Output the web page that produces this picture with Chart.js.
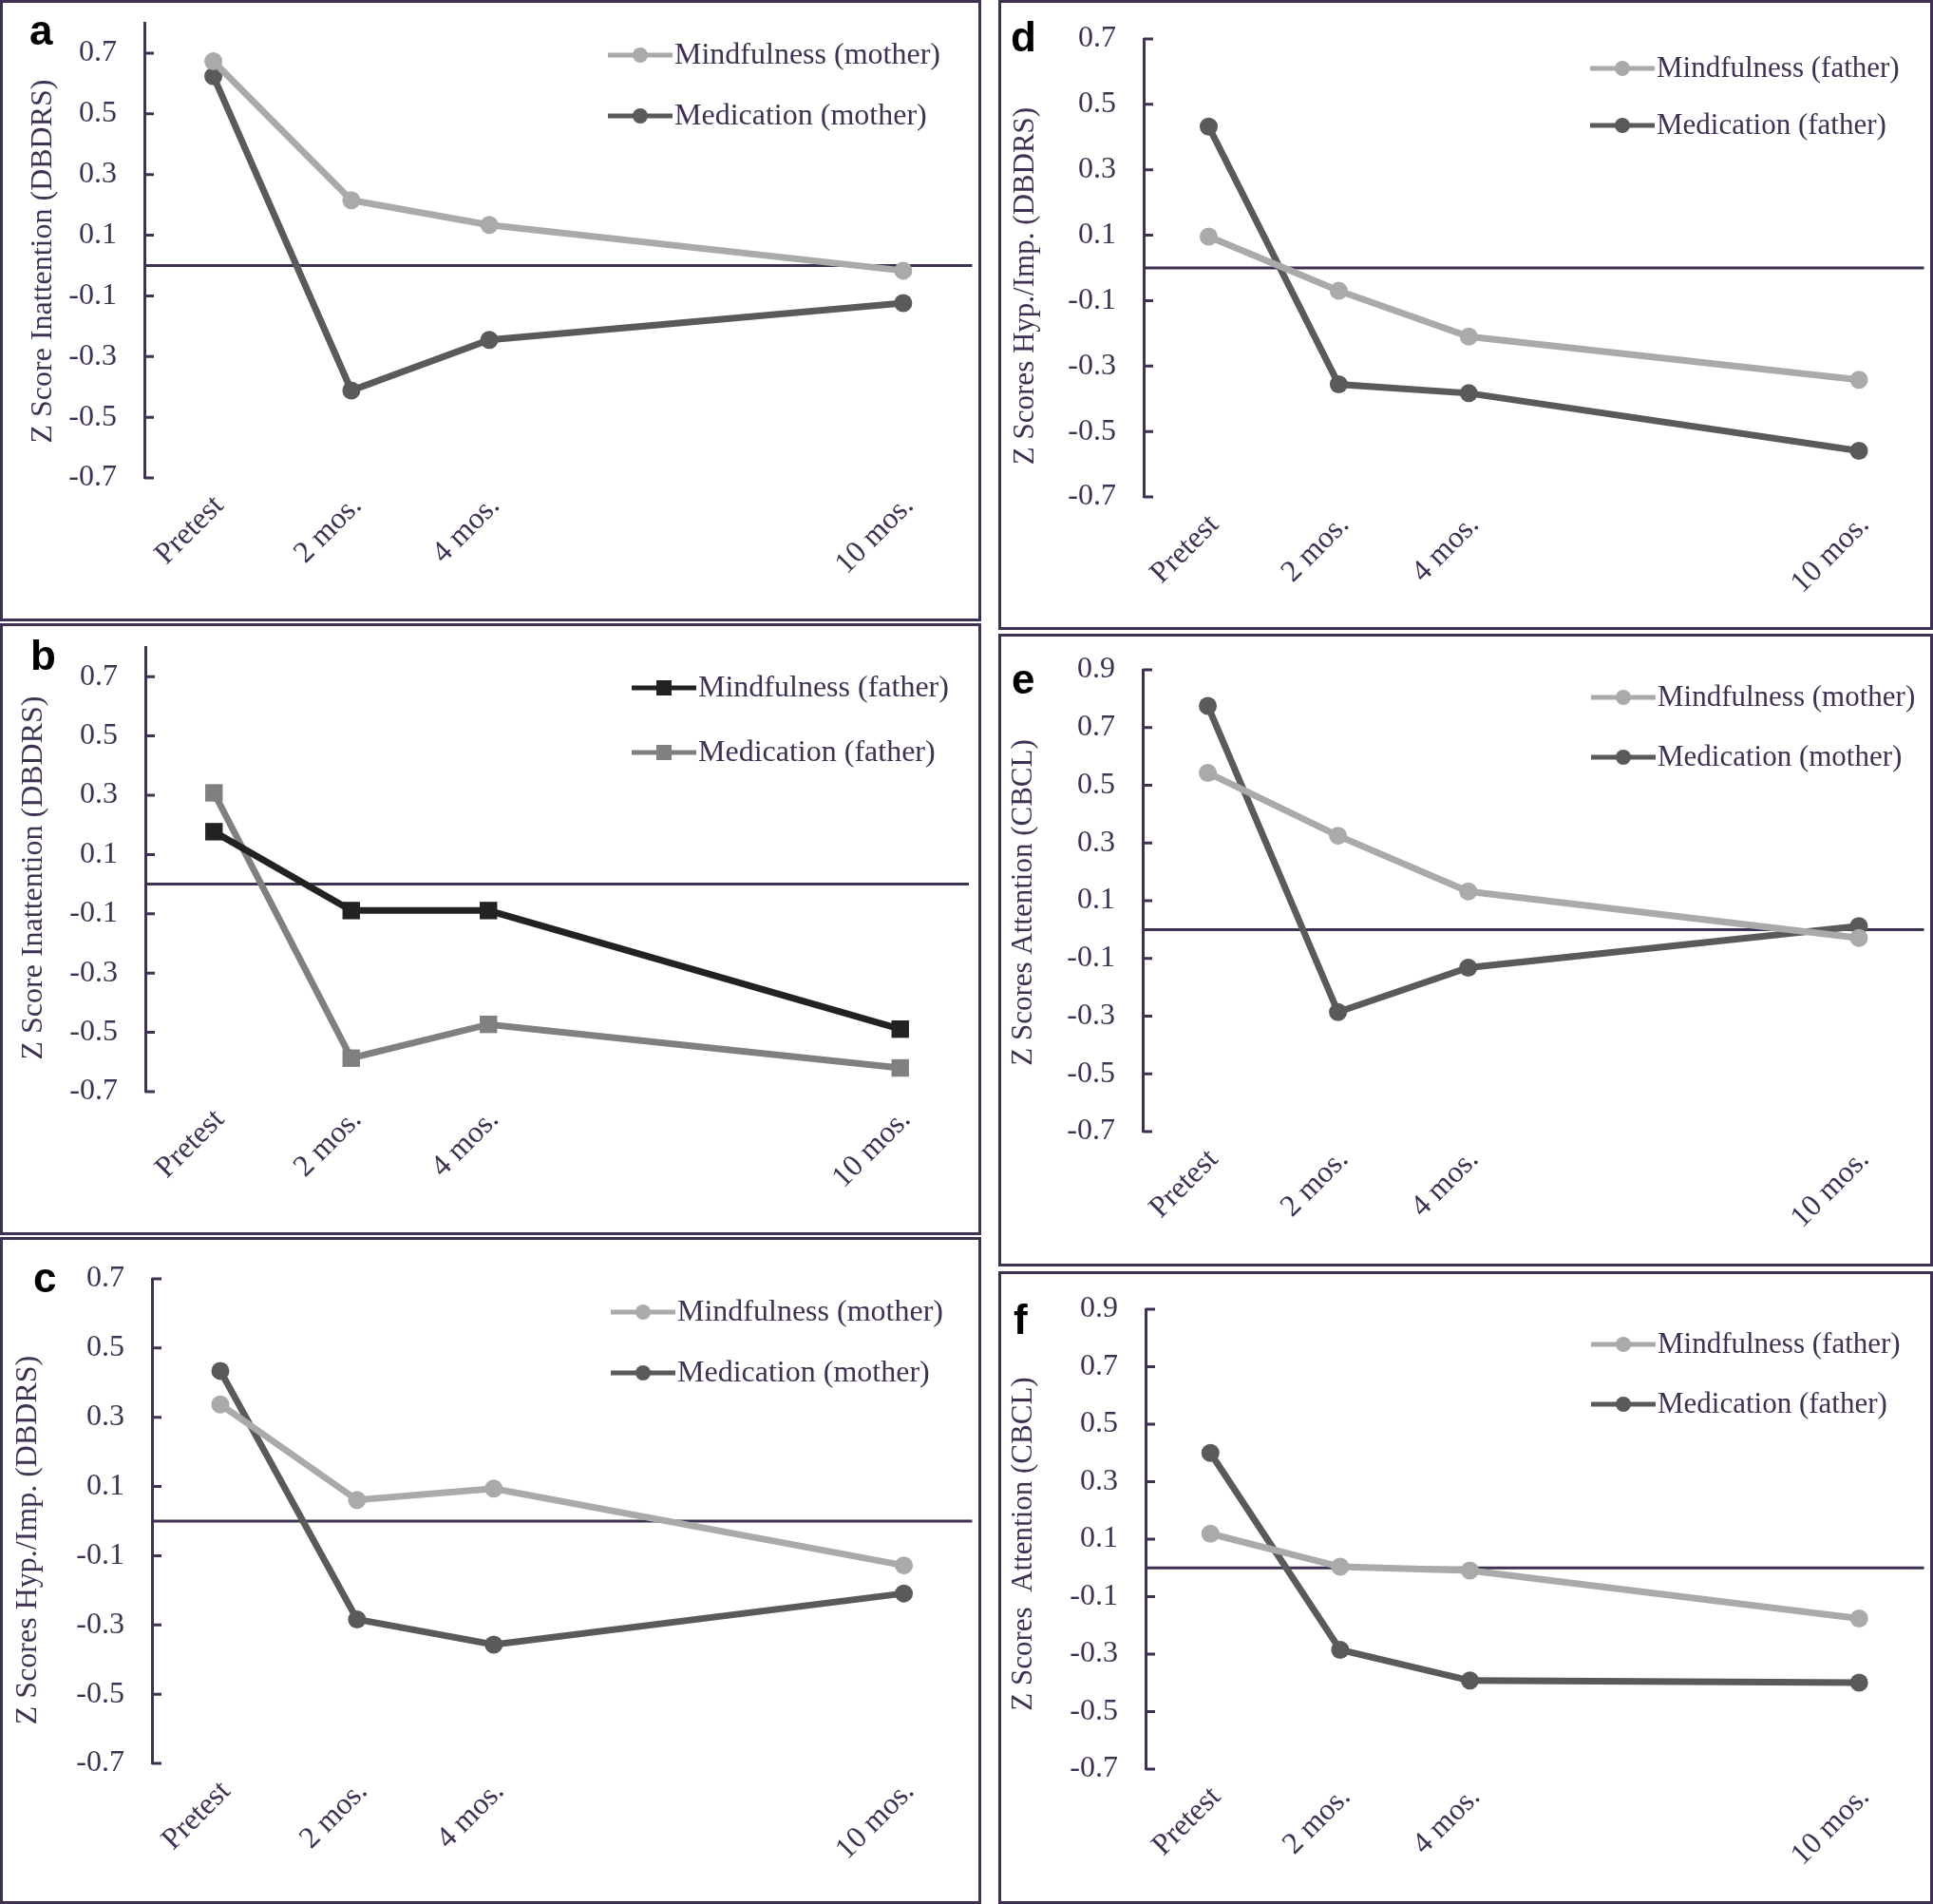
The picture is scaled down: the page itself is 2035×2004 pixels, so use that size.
<!DOCTYPE html>
<html>
<head>
<meta charset="utf-8">
<script src="https://cdn.jsdelivr.net/npm/chart.js@4.4.1/dist/chart.umd.min.js"></script>
<style>
  html, body { margin: 0; padding: 0; background: #fff; }
  #fig { position: relative; width: 2035px; height: 2004px; background: #fff; overflow: hidden; }
  .panel { position: absolute; }
  .panel canvas { position: absolute; left: 0; top: 0; }
  .frame { position: absolute; left: 0; top: 0; right: 0; bottom: 0; border: 3px solid #3F3151; box-sizing: border-box; pointer-events: none; }
</style>
</head>
<body>
<div id="fig"></div>
<script>
// ---- data ----
const months = [0, 2, 4, 10];
const timeLabels = ['Pretest', '2 mos.', '4 mos.', '10 mos.'];
const yTicksDbdrs = [-0.7, -0.5, -0.3, -0.1, 0.1, 0.3, 0.5, 0.7];
const yTicksCbcl = [-0.7, -0.5, -0.3, -0.1, 0.1, 0.3, 0.5, 0.7, 0.9];

// a: inattention (DBDRS), mothers
const inattMindMother = [0.673, 0.215, 0.134, -0.017];
const inattMedMother  = [0.624, -0.412, -0.245, -0.124];
// b: inattention (DBDRS), fathers
const inattMindFather = [0.177, -0.089, -0.089, -0.489];
const inattMedFather  = [0.308, -0.587, -0.473, -0.620];
// c: hyperactivity/impulsivity (DBDRS), mothers
const hypMindMother = [0.337, 0.061, 0.094, -0.128];
const hypMedMother  = [0.434, -0.284, -0.357, -0.209];
// d: hyperactivity/impulsivity (DBDRS), fathers
const hypMindFather = [0.096, -0.070, -0.210, -0.342];
const hypMedFather  = [0.432, -0.356, -0.383, -0.559];
// e: attention (CBCL), mothers
const attMindMother = [0.543, 0.325, 0.132, -0.029];
const attMedMother  = [0.775, -0.286, -0.132, 0.012];
// f: attention (CBCL), fathers
const attMindFather = [0.119, 0.004, -0.009, -0.176];
const attMedFather  = [0.400, -0.285, -0.392, -0.399];

// ---- look ----
const INK = '#3F3151';
const LIGHT = '#AAAAAA';
const DARK = '#5A5A5A';
const SERIF = "'Liberation Serif', 'Times New Roman', serif";
const TICK_FS = 32;

// panel boxes, plot edges, title centre and legend anchor in page pixels
const panels = [
  { id: 'a', box: [0, 0, 1033, 654], plot: { left: 152, top: 24, bottom: 503 }, yMax: 0.8, yTicks: yTicksDbdrs, fs: 32,
    title: 'Z Score Inattention (DBDRS)', titlePos: [46, 275], legend: { x: 640, y: 58, gap: 64 }, letter: [31, 47],
    series: [
      { label: 'Mindfulness (mother)', values: inattMindMother, color: LIGHT, marker: 'circle' },
      { label: 'Medication (mother)', values: inattMedMother, color: DARK, marker: 'circle' }
    ] },
  { id: 'b', box: [0, 656, 1033, 644], plot: { left: 153, top: 681, bottom: 1149 }, yMax: 0.8, yTicks: yTicksDbdrs, fs: 32,
    title: 'Z Score Inattention (DBDRS)', titlePos: [36, 924], legend: { x: 665, y: 724, gap: 68 }, letter: [32, 705],
    series: [
      { label: 'Mindfulness (father)', values: inattMindFather, color: '#222222', marker: 'rect' },
      { label: 'Medication (father)', values: inattMedFather, color: '#808080', marker: 'rect' }
    ] },
  { id: 'c', box: [0, 1302, 1033, 702], plot: { left: 160, top: 1346, bottom: 1856 }, yMax: 0.7, yTicks: yTicksDbdrs, fs: 32,
    title: 'Z Scores Hyp./Imp. (DBDRS)', titlePos: [30, 1621], legend: { x: 643, y: 1381, gap: 64 }, letter: [35, 1360],
    series: [
      { label: 'Mindfulness (mother)', values: hypMindMother, color: LIGHT, marker: 'circle' },
      { label: 'Medication (mother)', values: hypMedMother, color: DARK, marker: 'circle' }
    ] },
  { id: 'd', box: [1051, 0, 984, 663], plot: { left: 1204, top: 41, bottom: 523 }, yMax: 0.7, yTicks: yTicksDbdrs, fs: 31,
    title: 'Z Scores Hyp./Imp. (DBDRS)', titlePos: [1080, 301], legend: { x: 1674, y: 72, gap: 60 }, letter: [1064, 54],
    series: [
      { label: 'Mindfulness (father)', values: hypMindFather, color: LIGHT, marker: 'circle' },
      { label: 'Medication (father)', values: hypMedFather, color: DARK, marker: 'circle' }
    ] },
  { id: 'e', box: [1051, 667, 984, 666], plot: { left: 1203, top: 705, bottom: 1191 }, yMax: 0.9, yTicks: yTicksCbcl, fs: 31,
    title: 'Z Scores Attention (CBCL)', titlePos: [1078, 950], legend: { x: 1675, y: 734, gap: 63 }, letter: [1065, 730],
    series: [
      { label: 'Mindfulness (mother)', values: attMindMother, color: LIGHT, marker: 'circle' },
      { label: 'Medication (mother)', values: attMedMother, color: DARK, marker: 'circle' }
    ] },
  { id: 'f', box: [1051, 1338, 984, 666], plot: { left: 1206, top: 1378, bottom: 1862 }, yMax: 0.9, yTicks: yTicksCbcl, fs: 31,
    title: 'Z Scores  Attention (CBCL)', titlePos: [1078, 1625], legend: { x: 1675, y: 1415, gap: 63 }, letter: [1067, 1404],
    series: [
      { label: 'Mindfulness (father)', values: attMindFather, color: LIGHT, marker: 'circle' },
      { label: 'Medication (father)', values: attMedFather, color: DARK, marker: 'circle' }
    ] }
];

// zero line, inward tick marks, panel letter, y title
const refLines = {
  id: 'refLines',
  beforeDatasetsDraw(chart, args, opts) {
    const { ctx, chartArea, scales: { y } } = chart;
    ctx.save();
    ctx.strokeStyle = INK;
    ctx.lineWidth = 3;
    const y0 = y.getPixelForValue(0);
    ctx.beginPath();
    ctx.moveTo(chartArea.left, y0);
    ctx.lineTo(chartArea.right, y0);
    y.ticks.forEach(t => {
      const py = y.getPixelForValue(t.value);
      ctx.moveTo(chartArea.left, py);
      ctx.lineTo(chartArea.left + 10, py);
    });
    ctx.stroke();

    ctx.fillStyle = '#000';
    ctx.font = "bold 44px 'Liberation Sans', Arial, sans-serif";
    ctx.textBaseline = 'alphabetic';
    ctx.fillText(opts.letter.text, opts.letter.x, opts.letter.y);

    // axis title, rotated
    ctx.translate(opts.title.x, opts.title.y);
    ctx.rotate(-Math.PI / 2);
    ctx.fillStyle = INK;
    ctx.font = opts.title.size + 'px ' + SERIF;
    ctx.textAlign = 'center';
    ctx.textBaseline = 'middle';
    ctx.fillText(opts.title.text, 0, 0);
    ctx.restore();
  }
};

// legend drawn inside the plot, top right
const panelLegend = {
  id: 'panelLegend',
  afterDraw(chart, args, opts) {
    const { ctx } = chart;
    ctx.save();
    chart.data.datasets.forEach((ds, i) => {
      const x = opts.x, y = opts.y + i * opts.gap, len = 68;
      ctx.strokeStyle = ds.borderColor;
      ctx.lineWidth = 5;
      ctx.beginPath();
      ctx.moveTo(x, y);
      ctx.lineTo(x + len, y);
      ctx.stroke();
      ctx.fillStyle = ds.borderColor;
      if (ds.pointStyle === 'rect') {
        ctx.fillRect(x + len / 2 - 8, y - 8, 16, 16);
      } else {
        ctx.beginPath();
        ctx.arc(x + len / 2, y, 8, 0, Math.PI * 2);
        ctx.fill();
      }
      ctx.fillStyle = INK;
      ctx.font = opts.size + 'px ' + SERIF;
      ctx.textBaseline = 'middle';
      ctx.fillText(ds.label, x + len + 2, y + 1);
    });
    ctx.restore();
  }
};

function makeChart(p) {
  const [bx, by, bw, bh] = p.box;
  const wrap = document.createElement('div');
  wrap.className = 'panel';
  wrap.style.left = bx + 'px';
  wrap.style.top = by + 'px';
  wrap.style.width = bw + 'px';
  wrap.style.height = bh + 'px';
  const canvas = document.createElement('canvas');
  canvas.width = bw;
  canvas.height = bh;
  canvas.style.width = bw + 'px';
  canvas.style.height = bh + 'px';
  const frame = document.createElement('div');
  frame.className = 'frame';
  wrap.appendChild(canvas);
  wrap.appendChild(frame);
  document.getElementById('fig').appendChild(wrap);

  const padTop = p.plot.top - by;
  const yAxisWidth = p.plot.left - bx;
  const xAxisHeight = bh - 3 - (p.plot.bottom - by);
  const font = { family: SERIF, size: TICK_FS };

  return new Chart(canvas, {
    type: 'line',
    data: {
      datasets: p.series.map(s => ({
        label: s.label,
        data: months.map((m, i) => ({ x: m, y: s.values[i] })),
        borderColor: s.color,
        backgroundColor: s.color,
        borderWidth: 7,
        pointStyle: s.marker,
        pointRadius: s.marker === 'rect' ? 13 : 9.5,
        pointBorderWidth: 0,
        tension: 0
      }))
    },
    options: {
      responsive: false,
      animation: false,
      devicePixelRatio: 1,
      layout: { padding: { left: 0, top: padTop, right: 3, bottom: 3 } },
      plugins: {
        legend: { display: false },
        tooltip: { enabled: false },
        refLines: {
          letter: { text: p.id, x: p.letter[0] - bx, y: p.letter[1] - by },
          title: { text: p.title, x: p.titlePos[0] - bx, y: p.titlePos[1] - by, size: p.fs }
        },
        panelLegend: { x: p.legend.x - bx, y: p.legend.y - by, gap: p.legend.gap, size: p.fs }
      },
      scales: {
        x: {
          type: 'linear',
          min: -1,
          max: 11,
          afterBuildTicks: scale => { scale.ticks = months.map(v => ({ value: v })); },
          afterFit: scale => {
            scale.height = xAxisHeight;
            scale.paddingLeft = 0;
            scale.paddingRight = 0;
          },
          grid: { display: false, drawTicks: false },
          border: { display: false },
          ticks: {
            autoSkip: false,
            minRotation: 45,
            maxRotation: 45,
            padding: 11,
            labelOffset: 6,
            color: INK,
            font: font,
            callback: v => timeLabels[months.indexOf(v)]
          }
        },
        y: {
          type: 'linear',
          min: -0.7,
          max: p.yMax,
          afterBuildTicks: scale => { scale.ticks = p.yTicks.map(v => ({ value: v })); },
          afterFit: scale => {
            scale.width = yAxisWidth;
            scale.paddingTop = 0;
            scale.paddingBottom = 0;
          },
          grid: { display: false, drawTicks: false },
          border: { display: true, color: INK, width: 3 },
          ticks: {
            padding: 29,
            color: INK,
            font: font,
            callback: v => v.toFixed(1)
          }
        }
      }
    },
    plugins: [refLines, panelLegend]
  });
}

panels.forEach(makeChart);
</script>
</body>
</html>
